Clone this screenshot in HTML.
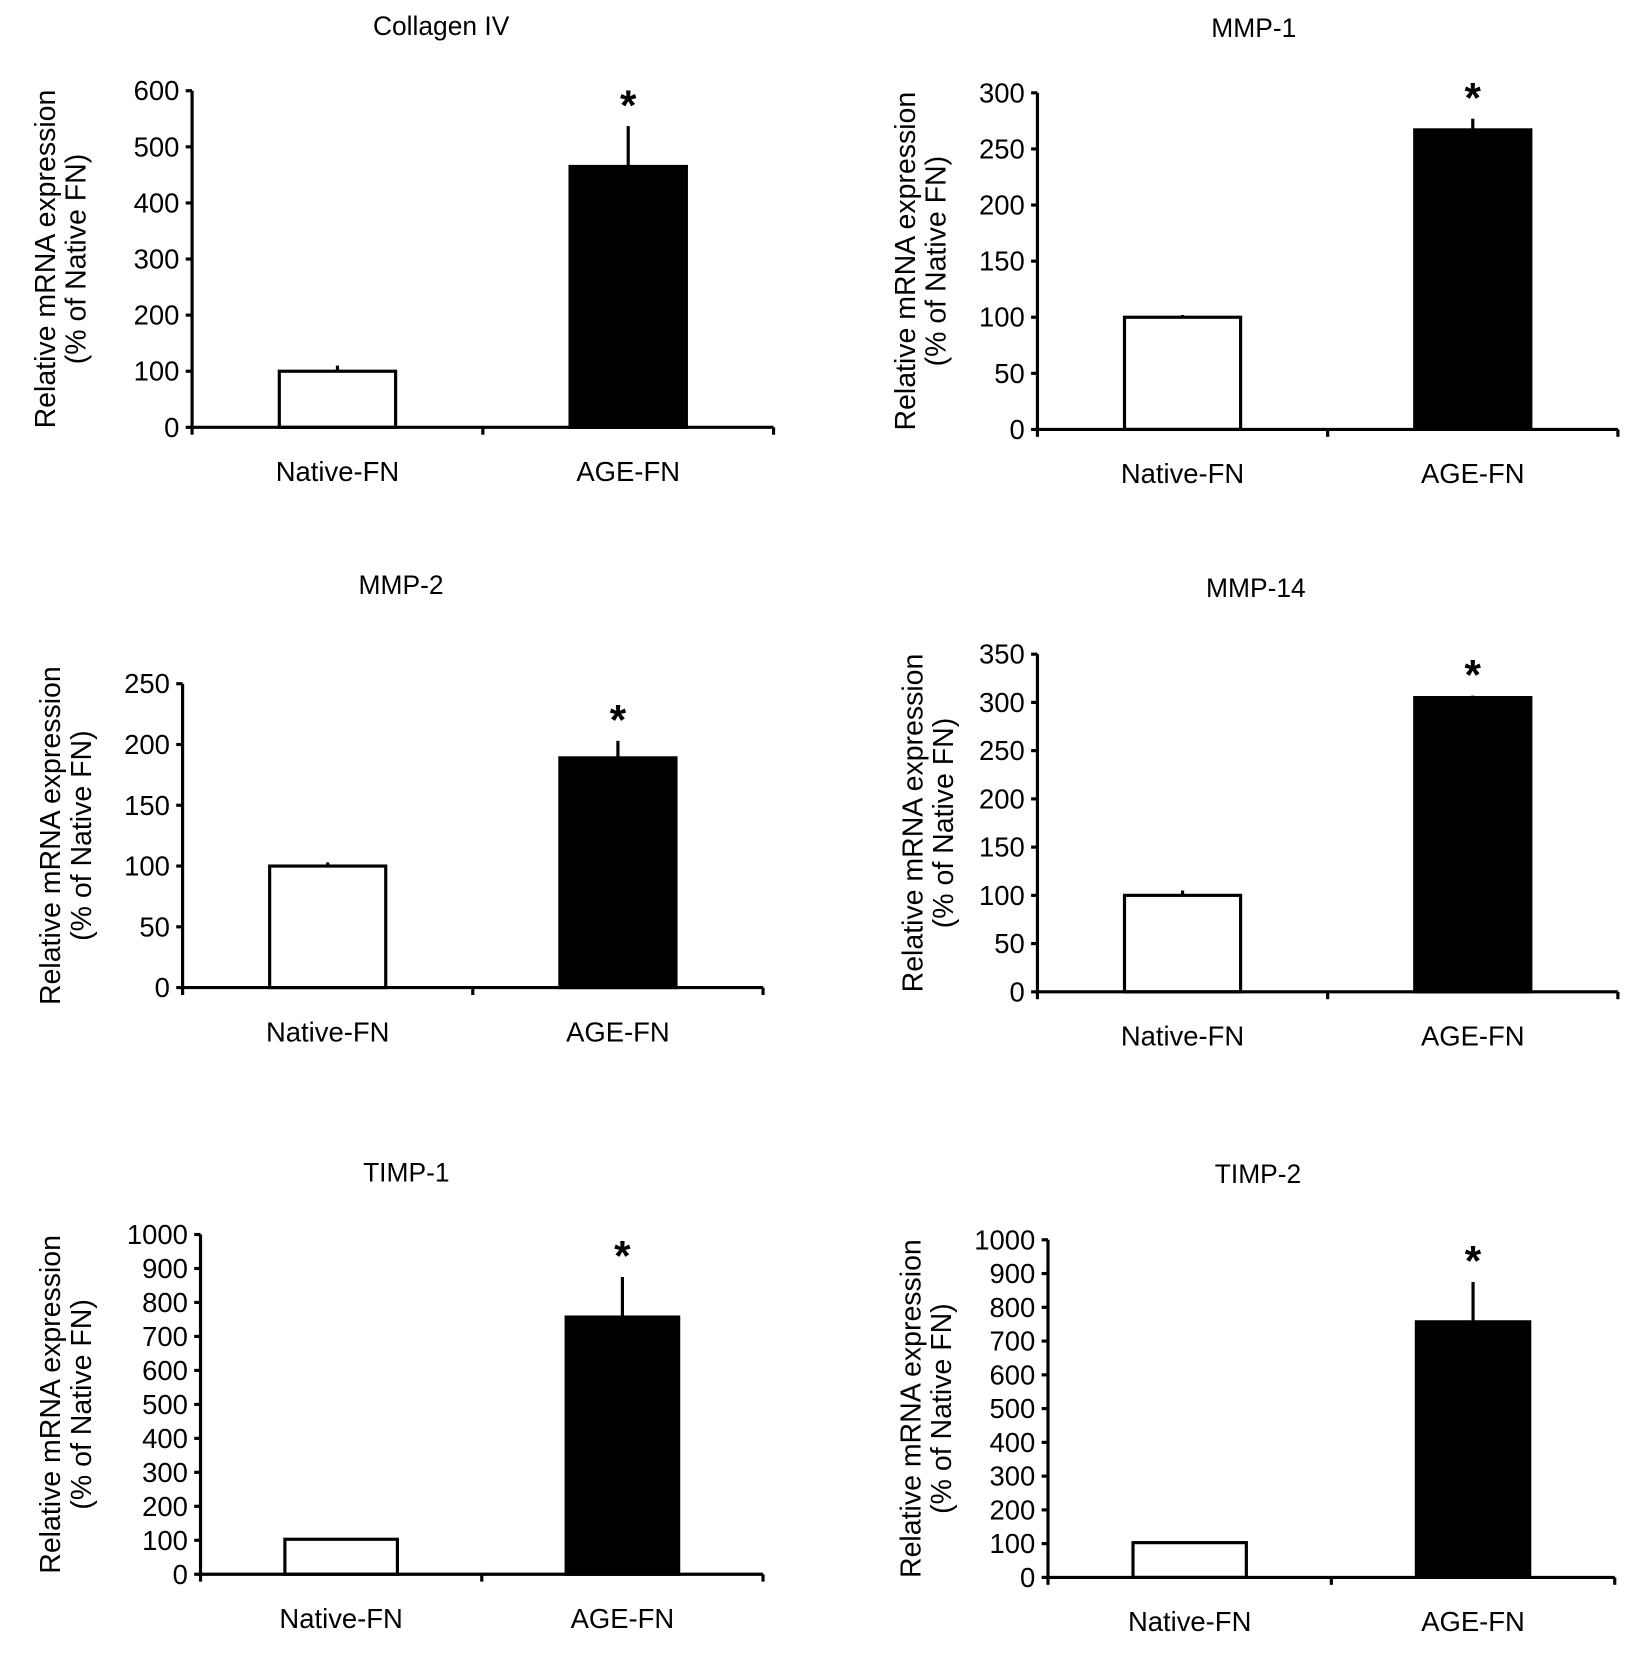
<!DOCTYPE html>
<html><head><meta charset="utf-8"><style>
html,body{margin:0;padding:0;background:#fff}
svg{display:block}
text{font-family:"Liberation Sans",Arial,sans-serif;fill:#000}
</style></head><body>
<svg id="fig" width="1639" height="1665" viewBox="0 0 1553 1578" preserveAspectRatio="none" xmlns="http://www.w3.org/2000/svg"></svg>
<script>
const titles = ["Collagen IV","MMP-1","MMP-2","MMP-14","TIMP-1","TIMP-2"];
const categories = ["Native-FN","AGE-FN"];
const nativeValues = [100,100,100,100,103,103];
const nativeErrors = [10,2,3,5,2,3];
const ageValues = [465,267,189,305,757,757];
const ageErrors = [72,10,14,2,118,118];
const yMax = [600,300,250,350,1000,1000];
const yStep = [100,50,50,50,100,100];
// panel geometry (layout, not data)
const panels = [
 {ax:182,top:86,bot:405,right:733,tx:418,ty:33,ylx:42},
 {ax:983,top:88,bot:407,right:1533,tx:1188,ty:35,ylx:857},
 {ax:173,top:648,bot:936,right:723,tx:380,ty:563,ylx:47},
 {ax:983,top:620,bot:940,right:1533,tx:1190,ty:566,ylx:864},
 {ax:190,top:1170,bot:1492,right:723,tx:385,ty:1120,ylx:47},
 {ax:993,top:1175,bot:1495,right:1530,tx:1192,ty:1121,ylx:862}
];
const NS="http://www.w3.org/2000/svg";
const svg=document.getElementById('fig');
function mk(tag,attrs,parent){const e=document.createElementNS(NS,tag);for(const k in attrs)e.setAttribute(k,attrs[k]);(parent||svg).appendChild(e);return e;}
panels.forEach((p,i)=>{
  const g=mk('g',{});
  
  
  const y=v=>p.bot-(v/yMax[i])*(p.bot-p.top);
  const w=p.right-p.ax, bw=w*0.2;
  const cx=k=>p.ax+w*(0.25+0.5*k);
  const t=mk('text',{x:p.tx,y:p.ty,'font-size':25,'text-anchor':'middle'},g);t.textContent=titles[i];
  
  
  const yl=mk('text',{transform:`translate(${p.ylx+10},${(p.top+p.bot)/2}) rotate(-90)`,'font-size':27,'text-anchor':'middle'},g);
  
  
  const s1=mk('tspan',{x:0,y:0},yl);s1.textContent='Relative mRNA expression';
  const s2=mk('tspan',{x:0,y:29},yl);s2.textContent='(% of Native FN)';
  [[nativeValues,nativeErrors,'#fff'],[ageValues,ageErrors,'#000']].forEach((s,k)=>{
    const v=s[0][i], e=s[1][i];
    const err=mk('line',{x1:cx(k),x2:cx(k),y1:y(v),y2:y(v+e),stroke:'#000','stroke-width':3},g);
    
    
    const r=mk('rect',{x:cx(k)-bw/2,y:y(v),width:bw,height:p.bot-y(v),fill:s[2],stroke:'#000','stroke-width':3},g);
    
    
    const xl=mk('text',{x:cx(k),y:p.bot+51,'font-size':26,'text-anchor':'middle'},g);xl.textContent=categories[k];
    
    
  });
  const st=mk('text',{x:cx(1),y:y(ageValues[i]+ageErrors[i])-6,'font-size':40,'font-weight':'bold','text-anchor':'middle'},g);
  st.textContent='*';
  
  
  const ya=mk('line',{x1:p.ax,x2:p.ax,y1:p.top,y2:p.bot,stroke:'#000','stroke-width':3},g);
  
  
  const xa=mk('line',{x1:p.ax,x2:p.right,y1:p.bot,y2:p.bot,stroke:'#000','stroke-width':3},g);
  
  
  [0,0.5,1].forEach(f=>{mk('line',{x1:p.ax+w*f,x2:p.ax+w*f,y1:p.bot,y2:p.bot+7,stroke:'#000','stroke-width':3},g);});
  for(let v=0;v<=yMax[i];v+=yStep[i]){
    mk('line',{x1:p.ax-6,x2:p.ax,y1:y(v),y2:y(v),stroke:'#000','stroke-width':3},g);
    const tl=mk('text',{x:p.ax-12,y:y(v)+9,'font-size':26,'text-anchor':'end'},g);tl.textContent=v;
    
    
  }
});
</script>
</body></html>
